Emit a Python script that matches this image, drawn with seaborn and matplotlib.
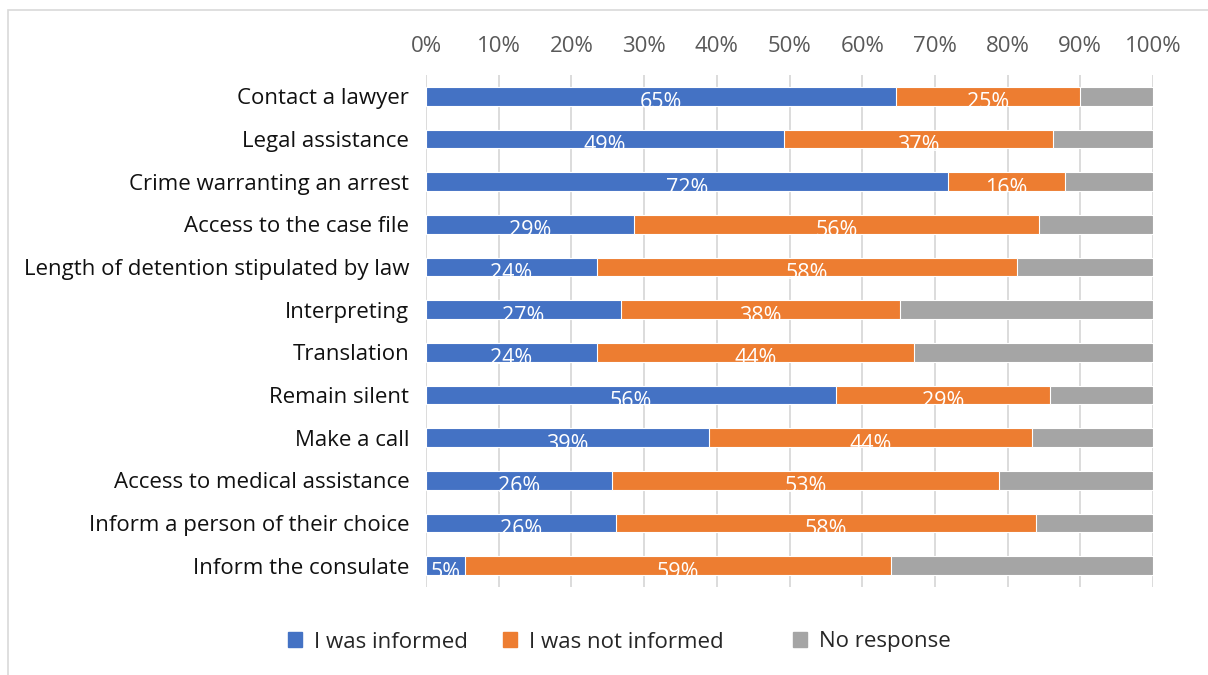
import pandas as pd
import matplotlib
matplotlib.use('Agg')
import matplotlib.pyplot as plt
import seaborn as sns

categories = ['Contact a lawyer', 'Legal assistance', 'Crime warranting an arrest',
              'Access to the case file', 'Length of detention stipulated by law',
              'Interpreting', 'Translation', 'Remain silent', 'Make a call',
              'Access to medical assistance', 'Inform a person of their choice',
              'Inform the consulate']
informed = [64.6, 49.2, 71.8, 28.6, 23.5, 26.8, 23.5, 56.4, 38.9, 25.6, 26.1, 5.4]
not_informed = [25.4, 37.1, 16.1, 55.7, 57.8, 38.4, 43.6, 29.4, 44.4, 53.2, 57.8, 58.6]
series = ['I was informed', 'I was not informed', 'No response']
colors = ['#4472C4', '#ED7D31', '#A5A5A5']

sns.set_style('white')
plt.rcParams['font.family'] = ['Open Sans', 'DejaVu Sans']

df = pd.DataFrame({'cat': categories, 'inf': informed, 'notinf': not_informed})
df['cum2'] = df['inf'] + df['notinf']
df['total'] = 100.0

fig = plt.figure(figsize=(12.08, 6.75), dpi=100)
ax = fig.add_axes([426/1208, 1-587/675, 727/1208, 512/675])

# stacked bars: draw from the longest down
for col, c in zip(['total', 'cum2', 'inf'], colors[::-1]):
    sns.barplot(data=df, y='cat', x=col, color=c, orient='h', width=0.44,
                saturation=1, edgecolor='white', linewidth=0.8, ax=ax)

for i, row in df.iterrows():
    ax.text(row['inf'] / 2, i + 0.15, f"{round(row['inf'])}%", color='white',
            ha='center', va='center', fontsize=15.5)
    ax.text(row['inf'] + row['notinf'] / 2, i + 0.15, f"{round(row['notinf'])}%",
            color='white', ha='center', va='center', fontsize=15.5)

ax.set_xlim(0, 100)
ax.set_ylim(11.5, -0.5)
ax.set_xticks(range(0, 101, 10))
ax.set_xticklabels([f'{v}%' for v in range(0, 101, 10)])
ax.xaxis.tick_top()
ax.tick_params(axis='x', labelsize=16, labelcolor='#595959', length=0, pad=13)
ax.tick_params(axis='y', labelsize=16, labelcolor='#111111', length=0, pad=12)
ax.set_xlabel('')
ax.set_ylabel('')
ax.grid(axis='x', color='#D9D9D9', linewidth=1.3)
ax.set_axisbelow(True)
for s in ax.spines.values():
    s.set_visible(False)

# legend entries at Excel-like positions
for name, c, x in zip(series, colors, [288, 503, 793]):
    h = plt.Rectangle((0, 0), 1, 1, color=c)
    fig.legend([h], [name], loc='center left', bbox_to_anchor=(x/1208, 1-642/675),
               frameon=False, fontsize=16, handlelength=0.65, handleheight=0.65,
               handletextpad=0.5, borderpad=0, borderaxespad=0)

# chart border
fig.add_artist(plt.Rectangle((8/1208, -0.01), 1.1, 1-10/675 + 0.01, transform=fig.transFigure,
                             fill=False, edgecolor='#D9D9D9', linewidth=1.2))

fig.savefig('out.png', dpi=100)
